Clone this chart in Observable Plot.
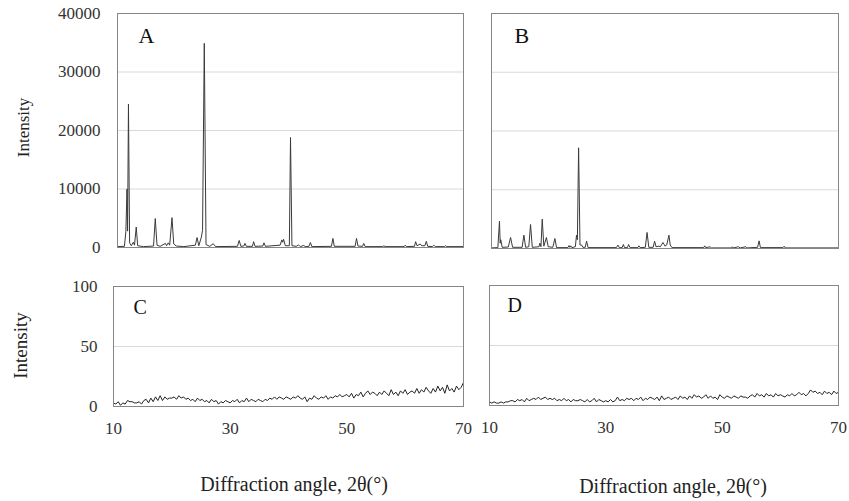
<!DOCTYPE html>
<html><head><meta charset="utf-8">
<script src="https://cdn.jsdelivr.net/npm/d3@7"></script>
<script src="https://cdn.jsdelivr.net/npm/@observablehq/plot@0.6"></script>
<style>
body{margin:0;background:#fff;}
#wrap{position:relative;width:849px;height:501px;font-family:"Liberation Serif","Times New Roman",serif;background:#fff;}
.panel{position:absolute;}
.xtitle{position:absolute;font-size:20px;color:#222;white-space:nowrap;transform:translateX(-50%);line-height:1;}
</style></head><body><div id="wrap"></div><script>
// ---- Data ----
// Panel A: vertices of the diffraction trace (angle 2θ, intensity)
const aAngle = [10,11.2,11.45,11.65,11.75,11.9,12.1,12.4,12.75,12.95,13.25,13.5,14.5,16.25,16.55,16.85,17.4,18.3,18.5,18.8,19.05,19.45,19.75,20.2,21.5,23.5,23.8,24.1,24.55,24.75,25.05,25.35,26.0,26.6,27.0,30.8,31.1,31.4,31.9,32.1,32.35,33.4,33.6,33.85,35.2,35.4,35.65,38.2,38.5,38.65,38.8,39.1,39.8,40.0,40.25,41.0,41.4,41.7,42.3,42.55,43.2,43.45,43.7,47.1,47.35,47.6,51.2,51.45,51.7,52.5,52.7,52.95,56.0,56.2,56.4,59.7,59.9,60.1,61.5,61.7,61.95,62.5,62.75,63.3,63.55,63.8,64.6,64.85,65.1,66.7,66.9,67.1,70];
const aIntensity = [150,200,2700,10000,2800,24500,800,300,900,400,3500,300,150,250,4950,400,200,700,300,800,400,5100,600,250,150,400,1700,300,1800,2950,34900,500,200,650,150,200,1200,200,250,700,200,200,1000,200,250,800,200,400,1300,900,1400,300,300,18800,300,200,450,150,350,150,200,850,150,200,1550,200,200,1550,250,200,700,150,150,300,150,150,400,150,200,1000,300,600,300,300,1050,200,150,400,150,150,300,150,150];
// Panel B
const bAngle = [10,11.1,11.38,11.5,11.6,11.85,12.9,13.3,13.65,15.3,15.6,15.9,16.45,16.75,17.05,18.2,18.37,18.55,18.77,19.05,19.5,19.8,20.6,20.96,21.25,23.2,23.4,23.55,23.7,23.9,24.5,24.7,24.85,25.06,25.3,25.6,25.8,26.2,26.44,26.7,31.6,31.86,32.1,32.6,32.8,33.0,33.5,33.7,33.95,35.3,35.5,35.7,36.6,36.9,37.2,37.95,38.2,38.45,38.96,39.2,39.65,39.85,40.0,40.3,40.68,40.9,41.2,46.7,46.86,47.05,47.8,48.0,51.5,51.65,51.8,52.7,53.0,54.0,54.2,56.0,56.27,56.5,60.4,60.6,60.8,70];
const bIntensity = [100,150,4650,900,1500,200,250,1870,200,200,2270,200,300,4090,200,300,900,300,4990,400,1870,300,200,1700,150,150,500,200,450,150,300,2270,1500,17140,600,570,200,200,1250,150,150,570,150,150,680,150,150,680,150,150,450,150,200,2730,200,200,1250,300,400,300,1020,700,400,600,2270,600,150,150,450,150,280,100,100,300,100,300,100,300,100,200,1300,150,150,390,100,100];
// Panels C and D: noisy traces sampled every 0.4° from 10° to 70°
const noiseAngle = d3.range(151).map(i => +(10 + i * 0.4).toFixed(1));
const cIntensity = [3,2,4,1,3,2,5,4,4,3, 3,4,2,5,6,3,7,4,8,5, 9,5,8,6,7,7,8,6,9,7, 8,6,7,5,6,4,7,5,6,4, 5,3,6,4,5,2,4,3,5,4, 3,5,4,6,3,5,4,7,4,6, 5,4,6,5,4,6,5,7,6,8, 6,8,7,6,8,7,6,8,7,9, 7,6,8,4,7,6,9,7,6,8, 7,9,6,8,7,9,8,10,8,9, 10,8,11,7,10,9,12,8,11,13, 10,12,11,9,12,10,13,11,9,14, 10,12,9,13,11,14,10,12,13,11, 15,11,14,12,16,13,11,15,12,17, 13,16,11,18,13,15,12,17,14,16, 20];
const dIntensity = [3,2,3,2,2,3,2,3,3,4, 4,3,5,4,5,3,6,4,5,6, 5,7,5,6,7,5,6,5,6,4, 5,4,6,4,5,3,5,4,4,5, 4,3,5,3,4,6,3,5,4,3, 4,3,5,3,4,7,4,5,4,6, 5,6,4,6,5,7,4,6,5,7, 6,5,7,4,8,5,6,7,5,6, 7,5,8,6,7,5,8,6,9,7, 8,6,7,9,6,8,6,7,5,9, 7,6,8,7,6,8,7,6,8,7, 7,6,8,9,7,10,8,9,7,10, 8,9,7,10,8,9,8,7,9,8, 10,8,9,11,9,10,8,10,13,11, 12,10,11,9,12,10,11,9,12,10, 11];
// Axis ticks and labels
const xTicks = [10, 30, 50, 70];
const yTicksTop = [0, 10000, 20000, 30000, 40000];
const yTicksBottom = [0, 50, 100];
const panelLetters = ["A", "B", "C", "D"];
const yTitle = "Intensity";
const xTitle = "Diffraction angle, 2θ(°)";

const wrap = document.getElementById("wrap");
const FONT = '"Liberation Serif","Times New Roman",serif';

function panel(o) {
  const data = o.angles.map((a, i) => ({a, v: o.values[i]}));
  const marks = [
    Plot.gridY(o.yTicks.slice(1, -1), {stroke: "#d9d9d9", strokeOpacity: 1}),
    Plot.line(data, {x: "a", y: "v", stroke: o.lineColor, strokeWidth: 1}),
    Plot.frame({stroke: "#868686", strokeWidth: 1}),
    Plot.text([o.letter], {text: d => d, frameAnchor: "top-left", dx: o.ldx, dy: o.ldy, lineAnchor: "top", textAnchor: "start", fontSize: o.letterSize, fill: "#111"})
  ];
  if (o.showY) {
    marks.push(Plot.axisY(o.yTicks, {tickSize: 0, tickPadding: o.yPad, tickFormat: d => String(d), fill: "#333", label: null}));
    marks.push(Plot.text([yTitle], {text: d => d, frameAnchor: "left", rotate: -90, dx: -o.labelOffset, dy: o.labelDy, lineAnchor: "top", textAnchor: "middle", fontSize: o.labelSize, fill: "#222"}));
  }
  if (o.showX) marks.push(Plot.axisX(xTicks, {tickSize: 0, tickPadding: 15, tickFormat: d => String(d), fill: "#333", label: null}));
  const svg = Plot.plot({
    width: o.width, height: o.height,
    marginLeft: o.ml, marginRight: o.mr, marginTop: o.mt, marginBottom: o.mb,
    style: {fontFamily: FONT, fontSize: "17px", color: "#333", background: "transparent", overflow: "visible"},
    x: {domain: [10, 70], axis: null},
    y: {domain: [o.yTicks[0], o.yTicks[o.yTicks.length - 1]], axis: null},
    marks
  });
  const div = document.createElement("div");
  div.className = "panel";
  div.style.left = o.left + "px";
  div.style.top = o.top + "px";
  div.appendChild(svg);
  wrap.appendChild(div);
}

panel({angles: aAngle, values: aIntensity, yTicks: yTicksTop, showY: true, showX: false, letter: panelLetters[0], letterSize: 22, ldx: 21, ldy: 14,
  left: 0, top: 0, width: 480, height: 262, ml: 117, mr: 17, mt: 13, mb: 15, yPad: 17, labelOffset: 101, labelDy: -3, labelSize: 17, lineColor: "#3a3a3a"});
panel({angles: bAngle, values: bIntensity, yTicks: yTicksTop, showY: false, showX: false, letter: panelLetters[1], letterSize: 22, ldx: 23, ldy: 14,
  left: 480, top: 0, width: 369, height: 262, ml: 11, mr: 11, mt: 13, mb: 14, lineColor: "#3a3a3a"});
panel({angles: noiseAngle, values: cIntensity, yTicks: yTicksBottom, showY: true, showX: true, letter: panelLetters[2], letterSize: 20, ldx: 20, ldy: 13,
  left: 0, top: 270, width: 480, height: 175, ml: 113, mr: 17, mt: 16, mb: 39, yPad: 16, labelOffset: 100, labelDy: -1, labelSize: 19, lineColor: "#222"});
panel({angles: noiseAngle, values: dIntensity, yTicks: yTicksBottom, showY: false, showX: true, letter: panelLetters[3], letterSize: 20, ldx: 18, ldy: 12,
  left: 480, top: 270, width: 369, height: 175, ml: 9, mr: 11, mt: 15, mb: 40, lineColor: "#222"});

function title(x, y) {
  const t = document.createElement("div");
  t.className = "xtitle";
  t.textContent = xTitle;
  t.style.left = x + "px";
  t.style.top = y + "px";
  wrap.appendChild(t);
}
title(294, 474);
title(673, 476);
</script></body></html>
